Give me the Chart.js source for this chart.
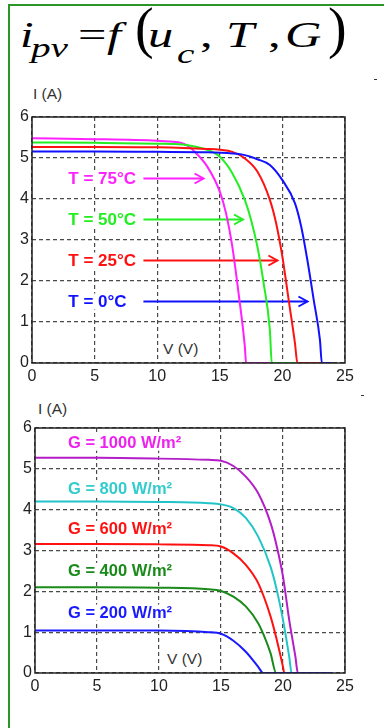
<!DOCTYPE html>
<html>
<head>
<meta charset="utf-8">
<script src="https://cdn.jsdelivr.net/npm/chart.js@4.4.1/dist/chart.umd.min.js"></script>
<style>
  html, body { margin:0; padding:0; width:384px; height:728px; overflow:hidden; background:#fff; }
  .frame { position:absolute; left:8px; top:4px; width:380px; height:730px; border-left:2.5px solid #2a962a; border-top:2.5px solid #2a962a; box-sizing:border-box; }
  .f { position:absolute; font-family:"Liberation Serif","Times New Roman",serif; line-height:1; white-space:nowrap; color:#000; transform-origin:0 0; }
  .it { font-style:italic; }
  .ax { position:absolute; font-family:"Liberation Sans",Arial,sans-serif; font-size:15.5px; color:#333; line-height:1; white-space:nowrap; }
  canvas { position:absolute; left:0; }
  .mk { position:absolute; height:1px; width:3px; background:#333; }
</style>
</head>
<body>
<div class="frame"></div>

<!-- formula i_pv = f(u_c, T, G) -->
<span class="f it" style="left:20px;top:17px;font-size:36px;transform:scaleX(1.35)">i</span>
<span class="f it" style="left:31px;top:34px;font-size:28px;transform:scaleX(1.4)">pv</span>
<span class="f" style="left:78px;top:17px;font-size:36px;transform:scaleX(1.4)">=</span>
<span class="f it" style="left:107px;top:17px;font-size:36px;transform:scaleX(1.4)">f</span>
<span class="f" style="left:135px;top:0px;font-size:56px">(</span>
<span class="f it" style="left:148px;top:17px;font-size:36px;transform:scaleX(1.4)">u</span>
<span class="f it" style="left:177px;top:40px;font-size:28px;transform:scaleX(1.4)">c</span>
<span class="f" style="left:200px;top:17px;font-size:36px;transform:scaleX(1.4)">,</span>
<span class="f it" style="left:226px;top:17px;font-size:36px;transform:scaleX(1.4)">T</span>
<span class="f" style="left:268px;top:17px;font-size:36px;transform:scaleX(1.4)">,</span>
<span class="f it" style="left:285px;top:17px;font-size:36px;transform:scaleX(1.4)">G</span>
<span class="f" style="left:328px;top:0px;font-size:56px">)</span>

<div class="mk" style="left:374px;top:79px"></div>
<div class="mk" style="left:361px;top:395px"></div>

<div class="ax" style="left:33px;top:86px">I (A)</div>
<div class="ax" style="left:163px;top:341px">V (V)</div>
<div class="ax" style="left:38px;top:401px">I (A)</div>
<div class="ax" style="left:167px;top:651px">V (V)</div>

<canvas id="c1" width="384" height="300" style="top:100px;width:384px;height:300px"></canvas>
<canvas id="c2" width="384" height="310" style="top:400px;width:384px;height:310px"></canvas>

<script>
// ---------- data: temperature family (G = 1000 W/m2) ----------
const vT75 = [0, 5, 10, 11, 12, 12.5, 13, 14, 15, 15.5, 16, 16.5, 17, 17.1, 24];
const iT75 = [5.48, 5.46, 5.42, 5.40, 5.36, 5.28, 5.15, 4.79, 4.18, 3.65, 2.84, 1.70, 0.40, 0, 0];
const vT50 = [0, 5, 10, 12, 13, 14, 15, 16, 17, 17.5, 18, 18.5, 19, 19.15, 24];
const iT50 = [5.38, 5.37, 5.35, 5.33, 5.28, 5.20, 5.03, 4.63, 3.98, 3.49, 2.84, 1.95, 0.80, 0, 0];
const vT25 = [0, 5, 10, 14, 15, 16, 17, 18, 19, 19.5, 20, 20.5, 21, 21.2, 24];
const iT25 = [5.27, 5.27, 5.26, 5.22, 5.20, 5.15, 4.99, 4.67, 3.98, 3.41, 2.59, 1.54, 0.49, 0, 0];
const vT0  = [0, 5, 10, 14, 16, 17, 18, 19, 20, 21, 21.5, 22, 22.5, 23, 23.15, 24];
const iT0  = [5.16, 5.16, 5.15, 5.14, 5.11, 5.07, 4.97, 4.83, 4.46, 3.90, 3.33, 2.50, 1.54, 0.56, 0, 0];

const tempLabels = ['T = 75°C', 'T = 50°C', 'T = 25°C', 'T = 0°C'];
const tempLabelI = [4.5, 3.5, 2.5, 1.5];
const tempArrowEndV = [13.7, 16.85, 19.6, 22.0];

// ---------- data: irradiance family ----------
const vG1000 = [0, 5, 10, 14, 15, 16, 17, 18, 19, 19.5, 20, 20.5, 21, 21.2, 24];
const iG1000 = [5.27, 5.27, 5.25, 5.22, 5.20, 5.07, 4.81, 4.40, 3.67, 3.10, 2.36, 1.30, 0.40, 0, 0];
const vG800  = [0, 5, 10, 14, 15, 16, 17, 18, 19, 19.5, 20, 20.5, 20.7, 24];
const iG800  = [4.20, 4.20, 4.19, 4.16, 4.13, 4.04, 3.80, 3.34, 2.60, 2.03, 1.30, 0.40, 0, 0];
const vG600  = [0, 5, 10, 14, 15, 16, 17, 18, 19, 19.5, 20, 20.1, 24];
const iG600  = [3.16, 3.16, 3.15, 3.13, 3.10, 2.93, 2.65, 2.20, 1.38, 0.81, 0.15, 0, 0];
const vG400  = [0, 5, 10, 14, 15, 16, 17, 18, 18.5, 19, 19.45, 24];
const iG400  = [2.10, 2.10, 2.09, 2.05, 2.01, 1.87, 1.63, 1.22, 0.89, 0.48, 0, 0];
const vG200  = [0, 5, 10, 14, 15, 16, 17, 18, 18.4, 24];
const iG200  = [1.04, 1.04, 1.04, 1.00, 0.96, 0.79, 0.52, 0.15, 0, 0];

const gLabels = ['G = 1000 W/m²', 'G = 800 W/m²', 'G = 600 W/m²', 'G = 400 W/m²', 'G = 200 W/m²'];
const gLabelI = [5.64, 4.53, 3.53, 2.50, 1.48];

const xTicks = [0, 5, 10, 15, 20, 25];
const yTicks = [0, 1, 2, 3, 4, 5, 6];

// ---------- helpers ----------
function pts(v, i) { return v.map((x, k) => ({ x: x, y: i[k] })); }
function ds(v, i, color) {
  return { data: pts(v, i), borderColor: color, borderWidth: 2, pointRadius: 0,
           showLine: true, fill: false, cubicInterpolationMode: 'monotone' };
}

const FONT = '"Liberation Sans", Arial, sans-serif';

function makeOptions(padTop, yAxisW, xAxisH) {
  return {
    responsive: false, animation: false, devicePixelRatio: 1,
    layout: { padding: { top: padTop, right: 39, left: 0, bottom: 0 } },
    plugins: { legend: { display: false }, tooltip: { enabled: false } },
    scales: {
      x: {
        type: 'linear', min: 0, max: 25,
        afterBuildTicks: s => { s.ticks = xTicks.map(v => ({ value: v })); },
        afterFit: s => { s.height = xAxisH; },
        grid: { color: '#4a4a4a', lineWidth: 1.2, drawTicks: false },
        border: { display: false, dash: [4, 3] },
        ticks: { font: { family: FONT, size: 16 }, color: '#222', padding: 4, maxRotation: 0 }
      },
      y: {
        type: 'linear', min: 0, max: 6,
        afterBuildTicks: s => { s.ticks = yTicks.map(v => ({ value: v })); },
        afterFit: s => { s.width = yAxisW; },
        grid: { color: '#4a4a4a', lineWidth: 1.2, drawTicks: false },
        border: { display: false, dash: [4, 3] },
        ticks: { font: { family: FONT, size: 16 }, color: '#222', padding: 3 }
      }
    }
  };
}

const frameAndLabels = (kind) => ({
  id: 'frameAndLabels' + kind,
  beforeDatasetsDraw(chart) {
    const { ctx, scales: { x, y } } = chart;
    ctx.save();
    ctx.textBaseline = 'middle';
    ctx.textAlign = 'left';
    if (kind === 'T') {
      const colors = ['#ff22ff', '#22ee22', '#ff1111', '#1111ff'];
      ctx.font = 'bold 17px ' + FONT;
      tempLabels.forEach((t, k) => {
        const px = x.getPixelForValue(2.9), py = y.getPixelForValue(tempLabelI[k]);
        const w = ctx.measureText(t).width;
        ctx.fillStyle = '#fff';
        ctx.fillRect(px - 2, py - 8, w + 4, 16);
        ctx.fillStyle = colors[k];
        ctx.fillText(t, px, py + 1);
        const x0 = x.getPixelForValue(8.9), x1 = x.getPixelForValue(tempArrowEndV[k]);
        ctx.strokeStyle = colors[k]; ctx.lineWidth = 2;
        ctx.beginPath(); ctx.moveTo(x0, py); ctx.lineTo(x1, py); ctx.stroke();
        ctx.beginPath(); ctx.moveTo(x1 - 9, py - 5); ctx.lineTo(x1, py); ctx.lineTo(x1 - 9, py + 5); ctx.stroke();
      });
    } else {
      const colors = ['#ee22ee', '#33cccc', '#ff1111', '#1a8a1a', '#1a1aff'];
      ctx.font = 'bold 16.5px ' + FONT;
      gLabels.forEach((t, k) => {
        const px = x.getPixelForValue(2.66), py = y.getPixelForValue(gLabelI[k]);
        const w = ctx.measureText(t).width;
        ctx.fillStyle = '#fff';
        ctx.fillRect(px - 2, py - 8, w + 4, 16);
        ctx.fillStyle = colors[k];
        ctx.fillText(t, px, py + 1);
      });
    }
    ctx.restore();
  },
  afterDraw(chart) {
    const { ctx, chartArea: a } = chart;
    ctx.save();
    ctx.strokeStyle = '#222'; ctx.lineWidth = 1.5;
    ctx.strokeRect(a.left, a.top, a.right - a.left, a.bottom - a.top);
    ctx.restore();
  }
});

new Chart(document.getElementById('c1'), {
  type: 'scatter',
  data: { datasets: [
    ds(vT0, iT0, '#1111ff'),
    ds(vT25, iT25, '#ff1111'),
    ds(vT50, iT50, '#22ee22'),
    ds(vT75, iT75, '#ff22ff')
  ] },
  options: makeOptions(17, 32, 37),
  plugins: [frameAndLabels('T')]
});

new Chart(document.getElementById('c2'), {
  type: 'scatter',
  data: { datasets: [
    ds(vG200, iG200, '#1a1aff'),
    ds(vG400, iG400, '#1a8a1a'),
    ds(vG600, iG600, '#ff1111'),
    ds(vG800, iG800, '#22c4c8'),
    ds(vG1000, iG1000, '#b41ec8')
  ] },
  options: makeOptions(28, 35, 37),
  plugins: [frameAndLabels('G')]
});
</script>
</body>
</html>
